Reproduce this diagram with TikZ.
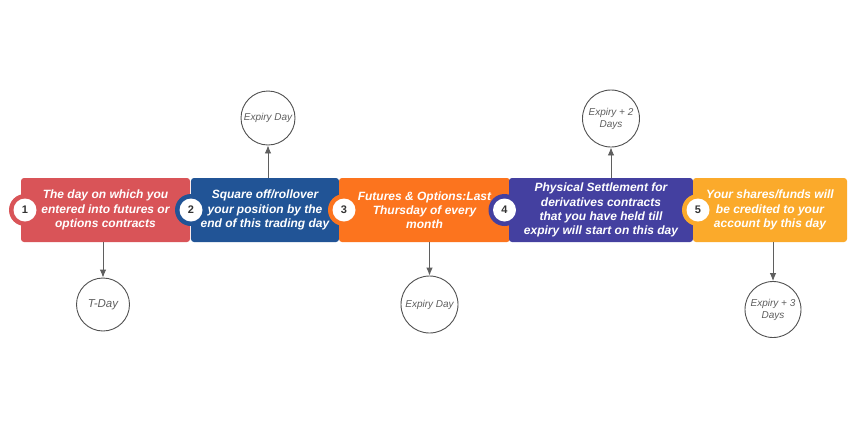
\documentclass[tikz,border=0pt]{standalone}
\usepackage{fontspec}
\setmainfont{Liberation Sans}
\usetikzlibrary{arrows.meta}
\definecolor{cA}{RGB}{217,84,88}
\definecolor{cB}{RGB}{33,84,150}
\definecolor{cC}{RGB}{252,116,30}
\definecolor{cD}{RGB}{68,64,160}
\definecolor{cE}{RGB}{251,170,43}
\definecolor{lineg}{RGB}{95,95,95}
\definecolor{numg}{RGB}{51,51,51}
\begin{document}
\begin{tikzpicture}[x=1pt,y=-1pt,
 stagebox/.style={rounded corners=3pt, minimum height=64pt, inner sep=0pt, text=white,
   font=\fontsize{12}{14.2}\selectfont\bfseries\itshape, align=center},
 ring/.style={circle, minimum size=32pt, inner sep=0pt},
 numdot/.style={circle, fill=white, minimum size=23pt, inner sep=0pt,
   font=\fontsize{11}{13}\selectfont\bfseries, text=numg},
 daycirc/.style={circle, draw=lineg!85!black, line width=0.9pt, fill=white, inner sep=0pt,
   text=lineg, font=\fontsize{10}{12}\selectfont\itshape, align=center},
 conn/.style={draw=lineg, line width=0.9pt, -{Latex[length=8pt,width=6.5pt]}}]
\path[use as bounding box, fill=white] (0,0) rectangle (860,432);

% stage 1
\node[stagebox, fill=cA, minimum width=169pt] (b1) at (105.5,210)
  {The day on which you\\entered into futures or\\options contracts};
\node[ring, fill=cA] (r1) at (25,210) {};
\node[numdot] (n1) at (r1) {1};
% stage 2
\node[stagebox, fill=cB, minimum width=148pt] (b2) at (265,210)
  {Square off/rollover\\your position by the\\end of this trading day};
\node[ring, fill=cB] (r2) at (191,210) {};
\node[numdot] (n2) at (r2) {2};
% stage 3
\node[stagebox, fill=cC, minimum width=171pt] (b3) at (424.5,210)
  {Futures \& Options:Last\\Thursday of every\\month};
\node[ring, fill=cC] (r3) at (344,210) {};
\node[numdot] (n3) at (r3) {3};
% stage 4
\node[stagebox, fill=cD, minimum width=184pt] (b4) at (601,210)
  {Physical Settlement for\\derivatives contracts\\that you have held till\\expiry will start on this day};
\node[ring, fill=cD] (r4) at (504.5,210) {};
\node[numdot] (n4) at (r4) {4};
% stage 5
\node[stagebox, fill=cE, minimum width=154pt] (b5) at (770,210)
  {Your shares/funds will\\be credited to your\\account by this day};
\node[ring, fill=cE] (r5) at (698,210) {};
\node[numdot] (n5) at (r5) {5};

% day circles
\node[daycirc, minimum size=53pt, font=\fontsize{11.5}{13}\selectfont\itshape] (c1) at (103,304.5) {T-Day};
\node[daycirc, minimum size=54pt] (c2) at (268,118) {Expiry Day};
\node[daycirc, minimum size=57pt] (c3) at (429.5,304.5) {Expiry Day};
\node[daycirc, minimum size=57pt] (c4) at (611,118.5) {Expiry + 2\\Days};
\node[daycirc, minimum size=56pt] (c5) at (773,309.5) {Expiry + 3\\Days};

% connectors
\draw[conn] (b1.south -| c1) -- (c1);
\draw[conn] (b2.north -| c2) -- (c2);
\draw[conn] (b3.south -| c3) -- (c3);
\draw[conn] (b4.north -| c4) -- (c4);
\draw[conn] (b5.south -| c5) -- (c5);
\end{tikzpicture}
\end{document}
